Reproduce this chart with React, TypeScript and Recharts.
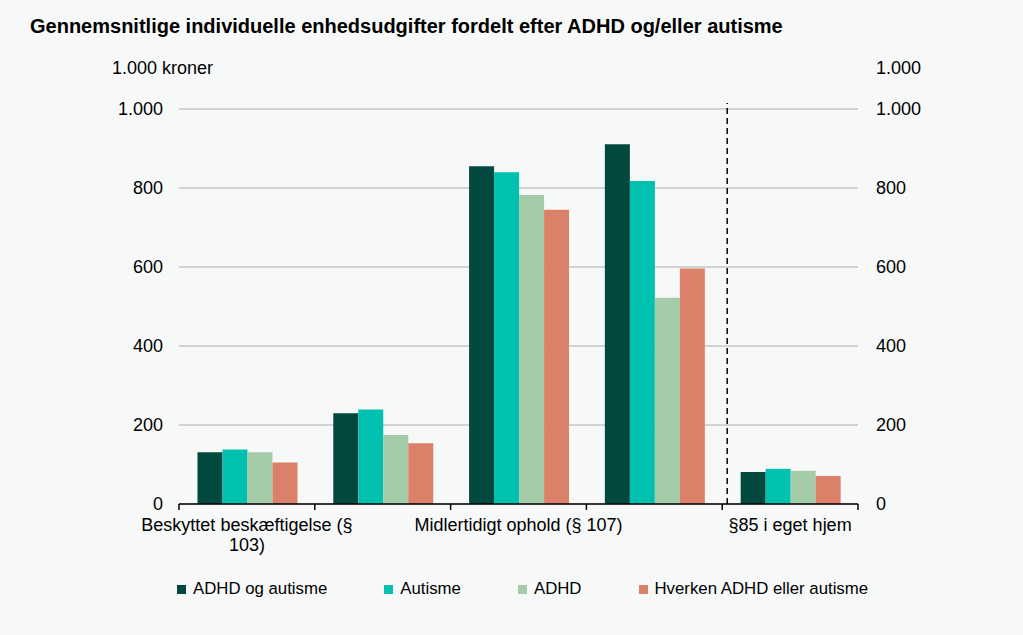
import { BarChart, Bar, XAxis, YAxis, CartesianGrid, ReferenceLine } from "recharts";

const categories = [
  "Beskyttet beskæftigelse (§ 103)",
  "",
  "Midlertidigt ophold (§ 107)",
  "",
  "§85 i eget hjem",
];
const adhdOgAutisme = [131, 230, 855, 911, 81];
const autisme = [138, 239, 840, 818, 89];
const adhd = [131, 175, 782, 522, 84];
const hverken = [105, 154, 745, 596, 71];

const yTicks = [0, 200, 400, 600, 800, 1000];

const series = [
  { key: "adhdOgAutisme", name: "ADHD og autisme", color: "#01493f" },
  { key: "autisme", name: "Autisme", color: "#00c0b0" },
  { key: "adhd", name: "ADHD", color: "#a4cca8" },
  { key: "hverken", name: "Hverken ADHD eller autisme", color: "#dc8169" },
];

const data = categories.map((name, i) => ({
  i,
  name,
  adhdOgAutisme: adhdOgAutisme[i],
  autisme: autisme[i],
  adhd: adhd[i],
  hverken: hverken[i],
}));

const font = "'Liberation Sans', Arial, sans-serif";
const fmt = (v: number) => (v >= 1000 ? v.toLocaleString("da-DK") : String(v));

// word wrap like the original, measured with a canvas
const wrap = (text: string, maxWidth: number, cssFont: string) => {
  const ctx = document.createElement("canvas").getContext("2d");
  if (!ctx) return [text];
  ctx.font = cssFont;
  const lines: string[] = [];
  let cur = "";
  for (const w of text.split(" ")) {
    const next = cur ? cur + " " + w : w;
    if (cur && ctx.measureText(next).width > maxWidth) {
      lines.push(cur);
      cur = w;
    } else {
      cur = next;
    }
  }
  if (cur) lines.push(cur);
  return lines;
};

const CategoryTick = (props: any) => {
  const { x, y, payload } = props;
  const label = categories[payload.value];
  if (!label) return null;
  const lines = wrap(label, 225, `18px ${font}`);
  return (
    <text x={x} y={y} textAnchor="middle" fontSize={18} fontFamily={font} fill="#000">
      {lines.map((l, k) => (
        <tspan key={k} x={x} dy={k === 0 ? "0.71em" : 20}>
          {l}
        </tspan>
      ))}
    </text>
  );
};

// dashed divider sits just right of the boundary before the last group
const DividerShape = (p: any) => (
  <line
    x1={p.x1 + 5}
    y1={p.y1}
    x2={p.x2 + 5}
    y2={p.y2}
    stroke="#000"
    strokeWidth={1.5}
    strokeDasharray="6 4"
  />
);

export default function App() {
  const last = data[data.length - 1].i;
  return (
    <div
      style={{
        position: "absolute",
        left: 0,
        top: 0,
        width: 1023,
        height: 635,
        background: "#f7f9f9",
        fontFamily: font,
        color: "#000",
      }}
    >
      <div style={{ position: "absolute", left: 30, top: 15, fontSize: 20, fontWeight: "bold" }}>
        Gennemsnitlige individuelle enhedsudgifter fordelt efter ADHD og/eller autisme
      </div>
      <div style={{ position: "absolute", left: 112, top: 58, fontSize: 18 }}>1.000 kroner</div>
      <div style={{ position: "absolute", left: 876, top: 58, fontSize: 18 }}>1.000</div>

      <BarChart
        width={1023}
        height={635}
        data={data}
        margin={{ top: 109, right: 105, left: 119, bottom: 71 }}
        barCategoryGap="13.6%"
        barGap={0}
      >
        <CartesianGrid
          horizontal
          vertical={false}
          stroke="#c4c4c4"
          strokeWidth={1.5}
          yAxisId="left"
          xAxisId="cat"
        />
        <XAxis
          xAxisId="cat"
          dataKey="i"
          type="category"
          height={60}
          axisLine={{ stroke: "#000", strokeWidth: 1.5 }}
          tickLine={false}
          tickSize={0}
          tickMargin={14}
          interval={0}
          tick={<CategoryTick />}
        />
        <YAxis
          yAxisId="left"
          domain={[0, 1000]}
          allowDataOverflow
          ticks={yTicks}
          width={60}
          axisLine={false}
          tickLine={false}
          tickSize={0}
          tickMargin={16}
          tickFormatter={fmt}
          tick={{ fill: "#000", fontSize: 18, fontFamily: font }}
        />
        <YAxis
          yAxisId="right"
          orientation="right"
          domain={[0, 1000]}
          allowDataOverflow
          ticks={yTicks}
          width={60}
          axisLine={false}
          tickLine={false}
          tickSize={0}
          tickMargin={18}
          tickFormatter={fmt}
          tick={{ fill: "#000", fontSize: 18, fontFamily: font }}
        />
        {series.map((s) => (
          <Bar
            key={s.key}
            dataKey={s.key}
            name={s.name}
            fill={s.color}
            xAxisId="cat"
            yAxisId="left"
            isAnimationActive={false}
          />
        ))}
        {data.map((d) => (
          <ReferenceLine
            key={"edge" + d.i}
            xAxisId="cat"
            yAxisId="left"
            position="start"
            segment={[
              { x: d.i, y: 0 },
              { x: d.i, y: -15 },
            ]}
            ifOverflow="visible"
            stroke="#000"
            strokeWidth={1.5}
          />
        ))}
        <ReferenceLine
          xAxisId="cat"
          yAxisId="left"
          position="end"
          segment={[
            { x: last, y: 0 },
            { x: last, y: -15 },
          ]}
          ifOverflow="visible"
          stroke="#000"
          strokeWidth={1.5}
        />
        <ReferenceLine
          xAxisId="cat"
          yAxisId="left"
          position="start"
          segment={[
            { x: last, y: 0 },
            { x: last, y: 1015 },
          ]}
          ifOverflow="visible"
          shape={DividerShape}
        />
      </BarChart>

      <div
        style={{
          position: "absolute",
          left: 177,
          top: 579,
          display: "flex",
          gap: 57,
          fontSize: 16.8,
        }}
      >
        {series.map((s) => (
          <div key={s.key} style={{ display: "flex", alignItems: "center", gap: 7 }}>
            <span style={{ width: 9, height: 9, background: s.color, display: "inline-block" }} />
            <span>{s.name}</span>
          </div>
        ))}
      </div>
    </div>
  );
}
